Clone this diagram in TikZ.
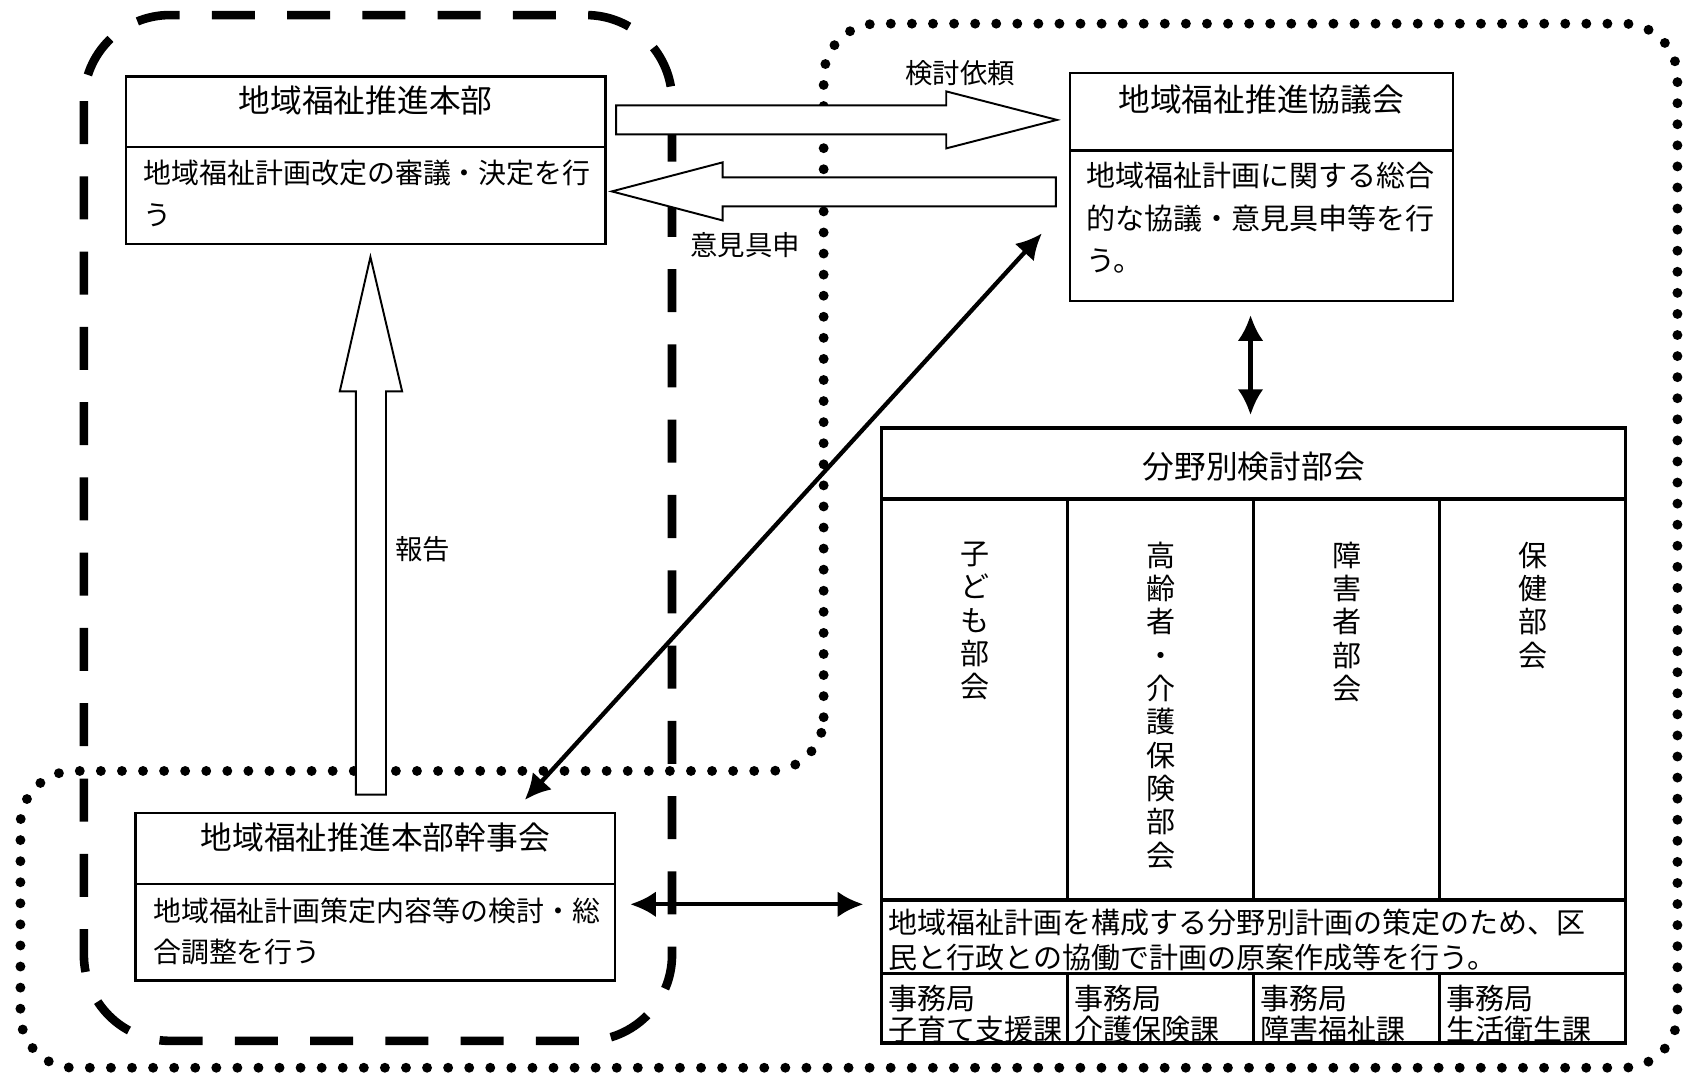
\documentclass[tikz,border=0pt]{standalone}
\usepackage{fontspec}
\setmainfont{Noto Sans CJK JP}
\usetikzlibrary{arrows.meta}

\begin{document}
\begin{tikzpicture}[x=0.5pt, y=-0.5pt,
	box/.style={draw=black, fill=white, line width=1.1pt},
	cellline/.style={draw=black, line width=1.5pt},
	blockarrow/.style={draw=black, fill=white, line width=0.9pt, line join=miter},
	link/.style={line width=2pt, {Latex[length=12pt,width=12pt]}-{Latex[length=12pt,width=12pt]}},
	dashline/.style={line width=4pt, dash pattern=on 20pt off 15pt},
	dotline/.style={line width=4.6pt, line cap=round, dash pattern=on 0pt off 9.8pt},
	heading/.style={font=\fontsize{14.75}{18}\selectfont, inner sep=0pt},
	body/.style={font=\fontsize{13}{19.5}\selectfont, inner sep=0pt, align=left, anchor=north west},
	note/.style={font=\fontsize{12.75}{15}\selectfont, inner sep=0pt},
	upright/.style={font=\fontsize{13.5}{15.5}\selectfont, inner sep=0pt, align=center, anchor=north}]

	\useasboundingbox (0,0) rectangle (1568,997);

	% groups
	\draw[dotline, rounded corners=25pt]
		(766,717) -- (766,22) -- (1560,22) -- (1560,993) -- (19,993) -- (19,717) -- cycle;
	\draw[dashline, rounded corners=40pt] (78,14) rectangle (625,968);

	% block arrows
	\draw[blockarrow] (573,98) -- (880,98) -- (880,85) -- (983,111.5) -- (880,138) -- (880,125) -- (573,125) -- cycle;
	\draw[blockarrow] (982,165) -- (672,165) -- (672,151) -- (569,178) -- (672,205) -- (672,192) -- (982,192) -- cycle;
	\draw[blockarrow] (331,739) -- (331,364) -- (316,364) -- (344.5,239) -- (374,364) -- (359,364) -- (359,739) -- cycle;

	\node[note] (request) at (893,68) {検討依頼};
	\node[note] (opinion) at (693,228) {意見具申};
	\node[note] (report) at (393,511) {報告};

	% honbu
	\draw[box] (117,71) rectangle (563,227);
	\draw[box] (117,137) -- (563,137);
	\node[heading] (honbu) at (340,93) {地域福祉推進本部};
	\node[body] (honbutext) at (133,148) {地域福祉計画改定の審議・決定を行\\う};

	% kyogikai
	\draw[box] (995,68) rectangle (1351,280);
	\draw[box] (995,140) -- (1351,140);
	\node[heading] (kyogi) at (1173,93) {地域福祉推進協議会};
	\node[body, font=\fontsize{13.5}{19.75}\selectfont] (kyogitext) at (1010,150.5) {地域福祉計画に関する総合\\的な協議・意見具申等を行\\う。};

	% kanjikai
	\draw[box] (126,756) rectangle (572,912);
	\draw[box] (126,822) -- (572,822);
	\node[heading] (kanji) at (349,779) {地域福祉推進本部幹事会};
	\node[body, font=\fontsize{13}{19}\selectfont] (kanjitext) at (142,835) {地域福祉計画策定内容等の検討・総\\合調整を行う};

	% bukai
	\draw[cellline, fill=white] (820,398) rectangle (1512,970);
	\draw[cellline] (820,464) -- (1512,464);
	\draw[cellline] (820,837) -- (1512,837);
	\draw[cellline] (820,905) -- (1512,905);
	\foreach \x in {993,1166,1339} {
		\draw[cellline] (\x,464) -- (\x,837);
		\draw[cellline] (\x,905) -- (\x,970);
	}
	\node[heading] (bukai) at (1166,434) {分野別検討部会};
	\node[upright] (kodomo) at (907,503.5) {子\\ど\\も\\部\\会};
	\node[upright] (korei) at (1080,503.5) {高\\齢\\者\\・\\介\\護\\保\\険\\部\\会};
	\node[upright] (shogai) at (1253,503.5) {障\\害\\者\\部\\会};
	\node[upright] (hoken) at (1426,503.5) {保\\健\\部\\会};
	\node[body, font=\fontsize{13.5}{16.5}\selectfont] (bukaitext) at (826,844.5) {地域福祉計画を構成する分野別計画の策定のため、区\\民と行政との協働で計画の原案作成等を行う。};
	\begin{scope}
		\clip (820,905) rectangle (1512,968);
		\node[body, font=\fontsize{13.5}{14.5}\selectfont] (office1) at (826,915.5) {事務局\\子育て支援課};
		\node[body, font=\fontsize{13.5}{14.5}\selectfont] (office2) at (999,915.5) {事務局\\介護保険課};
		\node[body, font=\fontsize{13.5}{14.5}\selectfont] (office3) at (1172,915.5) {事務局\\障害福祉課};
		\node[body, font=\fontsize{13.5}{14.5}\selectfont] (office4) at (1345,915.5) {事務局\\生活衛生課};
	\end{scope}

	% links
	\coordinate (kanjiend) at (488,744);
	\coordinate (kyogiend) at (969,217);
	\coordinate (kyogilow) at (1163,293);
	\coordinate (bukaitop) at (1163,386);
	\coordinate (kanjiright) at (586,841);
	\coordinate (bukaileft) at (803,841);
	\draw[link] (kanjiend) -- (kyogiend);
	\draw[link] (kyogilow) -- (bukaitop);
	\draw[link] (kanjiright) -- (bukaileft);

\end{tikzpicture}
\end{document}
